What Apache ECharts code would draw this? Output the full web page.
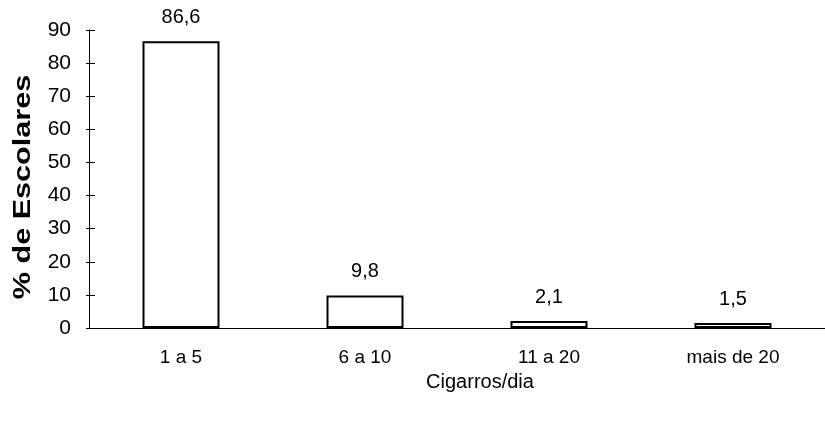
<!DOCTYPE html>
<html>
<head>
<meta charset="utf-8">
<script src="https://cdn.jsdelivr.net/npm/echarts@6/dist/echarts.min.js"></script>
<style>
  html, body { margin: 0; padding: 0; background: #fff; }
  #chart { width: 825px; height: 429px; }
</style>
</head>
<body>
<div id="chart"></div>
<script>
// Cigarettes smoked per day by students (% of students)
const categories = ['1 a 5', '6 a 10', '11 a 20', 'mais de 20'];
const percentages = [86.6, 9.8, 2.1, 1.5];
const yTicks = [0, 10, 20, 30, 40, 50, 60, 70, 80, 90];

const yMin = yTicks[0];
const yMax = yTicks[yTicks.length - 1];
const yStep = yTicks[1] - yTicks[0];

const FONT = 'Liberation Sans, Arial, sans-serif';
const fmt = v => String(v).replace('.', ',');

const chart = echarts.init(document.getElementById('chart'), null, { renderer: 'canvas' });

chart.setOption({
  backgroundColor: '#ffffff',
  animation: false,
  grid: { left: 89, top: 30, width: 742, bottom: 101, containLabel: false },
  xAxis: {
    type: 'category',
    data: categories,
    boundaryGap: true,
    axisLine: { show: true, lineStyle: { color: '#000', width: 1 } },
    axisTick: { show: false },
    axisLabel: { color: '#000', fontFamily: FONT, fontSize: 19, margin: 20 },
    name: 'Cigarros/dia',
    nameLocation: 'middle',
    nameGap: 44,
    nameTextStyle: { color: '#000', fontFamily: FONT, fontSize: 20, padding: [0, 0, 0, 46] }
  },
  yAxis: [
    {
      type: 'value',
      min: yMin, max: yMax, interval: yStep,
      axisLine: { show: true, lineStyle: { color: '#000', width: 1 } },
      axisTick: { show: true, inside: false, length: 3, lineStyle: { color: '#000' } },
      axisLabel: { color: '#000', fontFamily: FONT, fontSize: 21, margin: 18 },
      splitLine: { show: false }
    },
    {
      // inner half of the cross-shaped ticks
      type: 'value',
      position: 'left',
      min: yMin, max: yMax, interval: yStep,
      axisLine: { show: false },
      axisTick: { show: true, inside: true, length: 6, lineStyle: { color: '#000' } },
      axisLabel: { show: false },
      splitLine: { show: false }
    }
  ],
  graphic: [
    {
      type: 'text',
      x: 24, y: 187,
      rotation: Math.PI / 2,
      scaleX: 1.33,
      style: {
        text: '% de Escolares',
        fill: '#000',
        font: 'bold 23px ' + FONT,
        align: 'center',
        verticalAlign: 'middle'
      }
    }
  ],
  series: [
    {
      type: 'bar',
      yAxisIndex: 0,
      data: percentages,
      barWidth: 77,
      itemStyle: { color: '#fff', borderColor: '#000', borderWidth: 2 },
      label: {
        show: true,
        position: 'top',
        distance: 14,
        color: '#000',
        fontFamily: FONT,
        fontSize: 20,
        formatter: p => fmt(p.value)
      }
    }
  ]
});
</script>
</body>
</html>
